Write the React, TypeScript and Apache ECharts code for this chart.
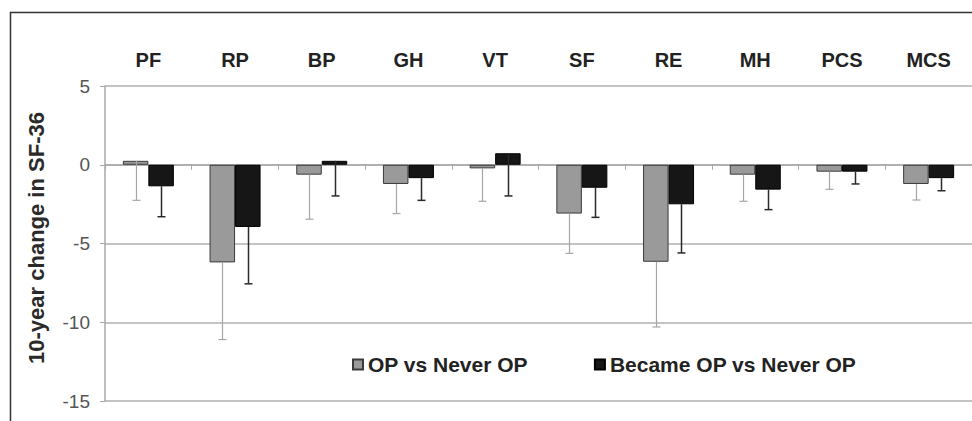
import React, { useEffect, useRef } from "react";
import * as echarts from "echarts";

const categories = ["PF", "RP", "BP", "GH", "VT", "SF", "RE", "MH", "PCS", "MCS"];
const seriesNames = ["OP vs Never OP", "Became OP vs Never OP"];
const yAxisTitle = "10-year change in SF-36";
const opValues = [0.25, -6.2, -0.63, -1.22, -0.23, -3.1, -6.16, -0.63, -0.44, -1.22];
const opLower = [-2.26, -11.1, -3.46, -3.1, -2.32, -5.63, -10.3, -2.32, -1.56, -2.24];
const becameValues = [-1.37, -3.95, 0.25, -0.85, 0.73, -1.46, -2.51, -1.58, -0.44, -0.85];
const becameLower = [-3.3, -7.56, -1.98, -2.26, -1.98, -3.34, -5.6, -2.85, -1.22, -1.65];
const yTicks = { min: -15, max: 5, interval: 5 };

const FONT = "'Liberation Sans', Arial, sans-serif";
const BAR_W = 25.5;

function errorSeries(values: number[], lower: number[], offset: number, color: string, width: number) {
  return {
    type: "custom",
    xAxisIndex: 0,
    yAxisIndex: 0,
    silent: true,
    z: 5,
    data: values.map((v, i) => [i, v, lower[i]]),
    encode: { x: 0, y: [1, 2] },
    renderItem: (params: any, api: any) => {
      const idx = api.value(0);
      const p1 = api.coord([idx, api.value(1)]);
      const p2 = api.coord([idx, api.value(2)]);
      const x = Math.round(p1[0] + offset) + 0.5;
      const style = { stroke: color, lineWidth: width };
      return {
        type: "group",
        children: [
          { type: "line", shape: { x1: x, y1: p1[1], x2: x, y2: p2[1] }, style },
          { type: "line", shape: { x1: x - 4, y1: p2[1], x2: x + 4, y2: p2[1] }, style },
        ],
      };
    },
  };
}

export default function App() {
  const ref = useRef<HTMLDivElement>(null);
  useEffect(() => {
    if (!ref.current) return;
    const chart = echarts.init(ref.current, undefined, { renderer: "svg" });
    chart.setOption({
      animation: false,
      backgroundColor: "#ffffff",
      graphic: [
        {
          type: "rect",
          shape: { x: 10.5, y: 12.5, width: 1000, height: 500 },
          style: { fill: "none", stroke: "#333333", lineWidth: 1.5 },
          z: 0,
        },
        {
          type: "text",
          x: 36,
          y: 238,
          rotation: Math.PI / 2,
          style: {
            text: yAxisTitle,
            fontFamily: FONT,
            fontSize: 22,
            fontWeight: "bold",
            fill: "#2a2a2a",
            align: "center",
            verticalAlign: "middle",
          },
        },
      ],
      grid: { left: 105, right: -2, top: 86, bottom: 20, containLabel: false },
      legend: {
        data: seriesNames,
        left: 352,
        top: 354,
        padding: 0,
        itemWidth: 10,
        itemHeight: 10,
        itemGap: 66,
        icon: "rect",
        textStyle: { fontFamily: FONT, fontSize: 21, fontWeight: "bold", color: "#222222" },
      },
      xAxis: [
        {
          type: "category",
          data: categories,
          position: "bottom",
          axisLine: { onZero: true, lineStyle: { color: "#a8a8a8", width: 1.5 } },
          axisTick: { show: true, inside: false, length: 5, alignWithLabel: false, lineStyle: { color: "#a8a8a8" } },
          axisLabel: { show: false },
          splitLine: { show: false },
        },
        {
          type: "category",
          data: categories,
          position: "top",
          axisLine: { show: false },
          axisTick: { show: false },
          axisLabel: {
            show: true,
            margin: 16,
            fontFamily: FONT,
            fontSize: 20,
            fontWeight: "bold",
            color: "#222222",
          },
        },
      ],
      yAxis: {
        type: "value",
        min: yTicks.min,
        max: yTicks.max,
        interval: yTicks.interval,
        axisLine: { show: true, lineStyle: { color: "#a8a8a8", width: 1.5 } },
        axisTick: { show: true, length: 5, lineStyle: { color: "#a8a8a8" } },
        axisLabel: { margin: 15, fontFamily: FONT, fontSize: 19, color: "#555555" },
        splitLine: { show: true, lineStyle: { color: "#b0b0b0", width: 1.5 } },
      },
      series: [
        {
          name: seriesNames[0],
          type: "bar",
          data: opValues,
          barWidth: BAR_W,
          barGap: "0%",
          itemStyle: { color: "#9a9a9a", borderColor: "#3a3a3a", borderWidth: 1 },
          z: 3,
        },
        {
          name: seriesNames[1],
          type: "bar",
          data: becameValues,
          barWidth: BAR_W,
          barGap: "0%",
          itemStyle: { color: "#161616", borderColor: "#000000", borderWidth: 1 },
          z: 3,
        },
        errorSeries(opValues, opLower, -BAR_W / 2, "#a6a6a6", 1.2),
        errorSeries(becameValues, becameLower, BAR_W / 2, "#2a2a2a", 1.5),
      ],
    });
    return () => chart.dispose();
  }, []);
  return (
    <div
      ref={ref}
      style={{ position: "absolute", left: 0, top: 0, width: 972, height: 421 }}
    />
  );
}
